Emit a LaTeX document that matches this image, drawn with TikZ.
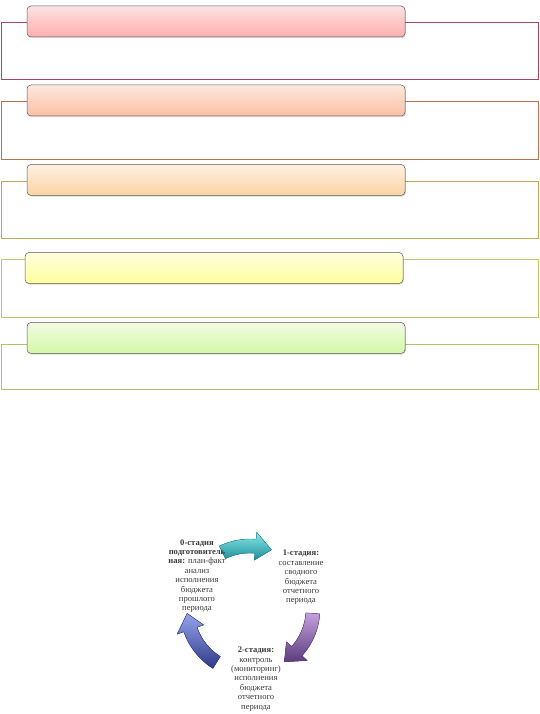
\documentclass[tikz,border=0pt]{standalone}
\usepackage{fontspec}
\setmainfont{Liberation Serif}
\usepackage{xcolor}
\usetikzlibrary{shadows}

\definecolor{redline}{HTML}{A84858}
\definecolor{orangeline}{HTML}{B8704E}
\definecolor{oliveline}{HTML}{C0A850}
\definecolor{yellowline}{HTML}{C4C46C}
\definecolor{greenline}{HTML}{B2C264}
\definecolor{redtop}{HTML}{FDE2E2}
\definecolor{redbot}{HTML}{FFAEAE}
\definecolor{peachtop}{HTML}{FDE8DC}
\definecolor{peachbot}{HTML}{FBC0A4}
\definecolor{orangetop}{HTML}{FEF0E0}
\definecolor{orangebot}{HTML}{FCD4A4}
\definecolor{yellowtop}{HTML}{FEFEDE}
\definecolor{yellowbot}{HTML}{FFFF9C}
\definecolor{greentop}{HTML}{F0FCE2}
\definecolor{greenbot}{HTML}{D4F8A8}
\definecolor{stagetext}{HTML}{3A3A3A}
\definecolor{cyanlight}{HTML}{8AE8EA}
\definecolor{cyandark}{HTML}{1C8E98}
\definecolor{purplelight}{HTML}{C4A0DC}
\definecolor{purpledark}{HTML}{5C3C7E}
\definecolor{bluelight}{HTML}{96A4EC}
\definecolor{bluedark}{HTML}{2E3A88}

% curved arrow of the cycle: start angle, end angle, light colour, dark colour
\newcommand{\cyclearrow}[4]{%
  \fill[top color=#3, bottom color=#4, draw=#4, line width=0.4pt]
    (#1:70pt) arc[start angle=#1, end angle=#2+15, radius=70pt]
    -- (#2+15:77pt) -- (#2:63pt) -- (#2+15:49pt) -- (#2+15:56pt)
    arc[start angle=#2+15, end angle=#1, radius=56pt] -- cycle;}

\begin{document}
\begin{tikzpicture}[
    x=1pt, y=1pt,
    frame/.style={draw, line width=1pt, minimum width=537pt, anchor=north west,
                  inner sep=0pt, outer sep=0pt},
    bar/.style={draw=gray!70!black, line width=0.5pt, rounded corners=4pt,
                minimum width=378pt, minimum height=31pt, inner sep=0pt,
                drop shadow={opacity=0.3, shadow xshift=0.8pt, shadow yshift=-1.2pt}},
    stage/.style={font=\fontsize{8.6}{9.4}\selectfont, text=stagetext, align=center,
                  inner sep=1pt},
]
\useasboundingbox (0,0) rectangle (540,714);

% frames behind the bars
\node[frame, draw=redline, minimum height=57pt] (f1) at (1.5,691.5) {};
\node[frame, draw=orangeline, minimum height=58pt] (f2) at (1.5,612.5) {};
\node[frame, draw=oliveline, minimum height=57pt] (f3) at (1.5,532.5) {};
\node[frame, draw=yellowline, minimum height=58pt] (f4) at (1.5,454.5) {};
\node[frame, draw=greenline, minimum height=45pt] (f5) at (1.5,369.5) {};

% coloured bars
\node[bar, top color=redtop, bottom color=redbot] (bar1) at (216,692.5) {};
\node[bar, top color=peachtop, bottom color=peachbot] (bar2) at (216,613.5) {};
\node[bar, top color=orangetop, bottom color=orangebot] (bar3) at (216,534) {};
\node[bar, top color=yellowtop, bottom color=yellowbot] (bar4) at (214,446) {};
\node[bar, top color=greentop, bottom color=greenbot] (bar5) at (216,376) {};

% cycle of stages
\begin{scope}[shift={(250,105)}]
  \cyclearrow{116}{70}{cyanlight}{cyandark}
  \cyclearrow{-4}{-57}{purplelight}{purpledark}
  \cyclearrow{-122}{-176}{bluelight}{bluedark}
\end{scope}

\node[stage] (st0) at (197,138) {\textbf{0-стадия}\\\textbf{подготовитель}\\\textbf{ная:} план-факт\\анализ\\исполнения\\бюджета\\прошлого\\периода};
\node[stage] (st1) at (301,136.5) {\textbf{1-стадия:}\\составление\\сводного\\бюджета\\отчетного\\периода};
\node[stage] (st2) at (256,35) {\textbf{2-стадия:}\\контроль\\(мониторинг)\\исполнения\\бюджета\\отчетного\\периода};
\end{tikzpicture}
\end{document}
